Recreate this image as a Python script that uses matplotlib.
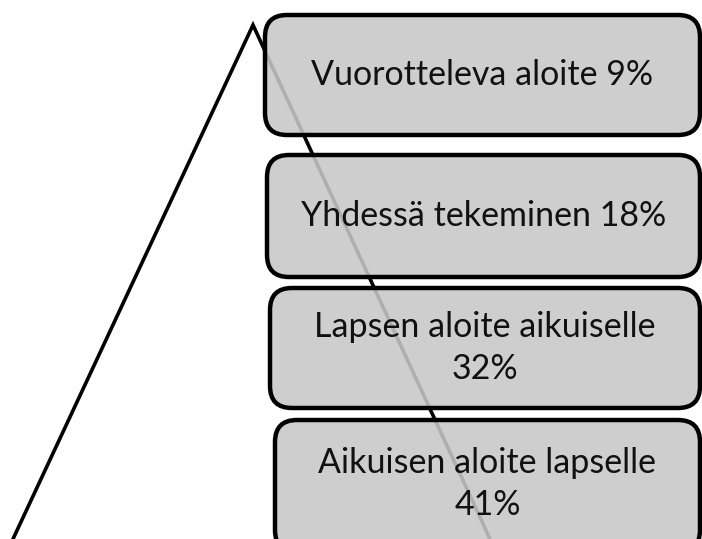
import matplotlib
matplotlib.use("Agg")
import matplotlib.pyplot as plt
from matplotlib.patches import FancyBboxPatch

# Data
categories = ["Vuorotteleva aloite", "Yhdessä tekeminen", "Lapsen aloite aikuiselle", "Aikuisen aloite lapselle"]
percentages = [9, 18, 32, 41]
two_line = [False, False, True, True]

# Layout (pixel space)
W, H = 702, 539
boxes = [(265, 15, 700, 135), (267, 155, 700, 277), (270, 288, 700, 408), (275, 420, 700, 552)]

fig = plt.figure(figsize=(W / 100, H / 100), dpi=100)
ax = fig.add_axes([0, 0, 1, 1])
ax.set_xlim(0, W)
ax.set_ylim(H, 0)
ax.axis("off")

# Triangle outline behind boxes
ax.plot([13, 253, 490], [539, 25, 539], color="black", lw=2.6, solid_joinstyle="miter", zorder=1)

text_y = [75, 216, 348, 484]
for cat, pct, tl, (x0, y0, x1, y1), ty in zip(categories, percentages, two_line, boxes, text_y):
    p = FancyBboxPatch((x0, y0), x1 - x0, y1 - y0,
                       boxstyle="round,pad=0,rounding_size=22",
                       facecolor=(200 / 255, 200 / 255, 200 / 255, 0.88),
                       edgecolor="black", lw=3.2, zorder=2)
    ax.add_patch(p)
    label = f"{cat}\n{pct}%" if tl else f"{cat} {pct}%"
    ax.text((x0 + x1) / 2, ty, label,
            ha="center", va="center", fontsize=24.5, family="Lato",
            color="#111111", linespacing=1.42, zorder=3)

fig.savefig("out.png", dpi=100)
